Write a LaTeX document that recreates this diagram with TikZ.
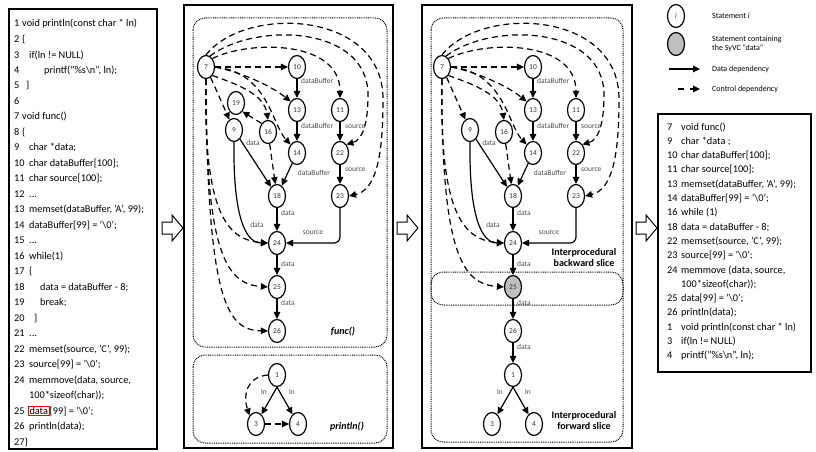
\documentclass[tikz,border=0pt]{standalone}
\usepackage{fontspec}
\setmainfont{Carlito}
\usetikzlibrary{shapes.geometric,arrows.meta}

% number column of a code line
\newcommand{\nb}[2]{\makebox[#1][l]{#2}}
\newcommand{\bsl}{\textbackslash}

\tikzset{
  stmt/.style={ellipse, draw, line width=1.2pt, minimum width=17pt, minimum height=23pt,
    inner sep=0pt, font=\fontsize{7.5}{8}\selectfont, text=black!80, fill=white},
  dep/.style={line width=1.2pt, -{Triangle[length=7pt,width=6.5pt]}},
  ctrl/.style={dep, dash pattern=on 6pt off 4pt},
  lbl/.style={font=\fontsize{7.5}{8}\selectfont, text=black!70, inner sep=0pt},
  region/.style={draw, line width=1pt, dash pattern=on 0.9pt off 0.9pt, rounded corners=12pt},
  panel/.style={draw, line width=1.1pt},
  code/.style={anchor=west, inner sep=0pt, font=\fontsize{10.3}{12}\selectfont},
  legtxt/.style={anchor=west, inner sep=0pt, align=left, font=\fontsize{8}{9.5}\selectfont},
  hollow/.style={draw, line width=1pt, fill=white},
  gtitle/.style={font=\fontsize{10}{11}\selectfont\bfseries\itshape, inner sep=0pt},
  slicetxt/.style={font=\fontsize{10}{11}\selectfont\bfseries, align=center, inner sep=0pt},
}

% hollow block arrow between two panels, #1 = left end
\newcommand{\blockarrow}[1]{%
  \draw[hollow] (#1,222) -- ++(10,0) -- ++(0,-7) -- ++(11,13) -- ++(-11,13)
    -- ++(0,-7) -- ++(-10,0) -- cycle;}

% statements and dependencies shared by both graphs of func()
% #1 = name prefix, #2 = extra style of statement 25
\newcommand{\funcgraph}[2]{%
  \node[stmt] (#1n7) at (206,67) {7};
  \node[stmt] (#1n10) at (297,67) {10};
  \node[stmt] (#1n13) at (297,110) {13};
  \node[stmt] (#1n14) at (297,153) {14};
  \node[stmt] (#1n11) at (340,110) {11};
  \node[stmt] (#1n22) at (340,153) {22};
  \node[stmt] (#1n23) at (340,196) {23};
  \node[stmt] (#1n9) at (234,130) {9};
  \node[stmt] (#1n16) at (268,132) {16};
  \node[stmt] (#1n18) at (277,196) {18};
  \node[stmt] (#1n24) at (277,243) {24};
  \node[stmt,#2] (#1n25) at (277,287) {25};
  \node[stmt] (#1n26) at (277,331) {26};
  \node[stmt] (#1n1) at (277,375) {1};
  \node[stmt] (#1n3) at (256,424) {3};
  \node[stmt] (#1n4) at (298,424) {4};
  % control dependencies
  \draw[ctrl] (#1n7) -- (#1n10);
  \draw[ctrl] (#1n7.east) .. controls (240,72) and (270,85) .. (#1n13.north west);
  \draw[ctrl] (#1n7.east) .. controls (268,72) and (272,125) .. (#1n14.north west);
  \draw[ctrl] (#1n7.south east) .. controls (240,85) and (264,95) .. (#1n16.north);
  \draw[ctrl] (#1n7) -- (#1n9);
  \draw[ctrl] (#1n7.north east) .. controls (250,40) and (340,40) .. (#1n11.north);
  \draw[ctrl] (#1n7.70) .. controls (255,22) and (368,25) .. (368,95)
    .. controls (368,125) and (362,140) .. (#1n22.north east);
  \draw[ctrl] (#1n7.north) .. controls (245,5) and (384,10) .. (383,100)
    .. controls (383,160) and (375,190) .. (#1n23.east);
  \draw[ctrl] (#1n7.south) .. controls (203,215) and (228,240) .. (#1n24.west);
  \draw[ctrl] (#1n7.south) .. controls (205,258) and (228,284) .. (#1n25.west);
  \draw[ctrl] (#1n16) -- (#1n18);
  % data dependencies
  \draw[dep] (#1n10) -- (#1n13);
  \draw[dep] (#1n13) -- (#1n14);
  \draw[dep] (#1n11) -- (#1n22);
  \draw[dep] (#1n22) -- (#1n23);
  \draw[dep] (#1n14) -- (#1n18);
  \draw[dep] (#1n9) -- (#1n18);
  \draw[dep] (#1n9.south) .. controls (233,215) and (245,243) .. (#1n24.west);
  \draw[dep] (#1n18) -- (#1n24);
  \draw[dep, rounded corners=6pt] (#1n23.south) |- (#1n24.east);
  \draw[dep] (#1n24) -- (#1n25);
  \draw[dep] (#1n25) -- (#1n26);
  \draw[dep] (#1n1.south) -- (#1n3);
  \draw[dep] (#1n1.south) -- (#1n4);
  % variable names on the data dependencies
  \node[lbl, anchor=west] (#1l1) at (301,81) {dataBuffer};
  \node[lbl, anchor=west] (#1l2) at (301,126) {dataBuffer};
  \node[lbl, anchor=west] (#1l3) at (345,127) {source};
  \node[lbl] (#1l4) at (253,143) {data};
  \node[lbl] (#1l5) at (314,173) {dataBuffer};
  \node[lbl, anchor=west] (#1l6) at (345,170) {source};
  \node[lbl, anchor=west] (#1l7) at (281,213) {data};
  \node[lbl] (#1l8) at (257,225) {data};
  \node[lbl] (#1l9) at (313,233) {source};
  \node[lbl, anchor=west] (#1l10) at (281,264) {data};
  \node[lbl, anchor=west] (#1l11) at (281,303) {data};
  \node[lbl] (#1l12) at (264,392) {ln};
  \node[lbl] (#1l13) at (292,392) {ln};
}

\begin{document}
\begin{tikzpicture}[x=1pt, y=-1pt]
\useasboundingbox (0,0) rectangle (816,452);

% ---------------- source code of the program ----------------
\draw[panel] (9,9) rectangle (157,449);
\node[code] (c1) at (14,24.0) {\nb{8pt}{1}void println(const char * ln)};
\node[code] (c2) at (14,39.5) {\nb{8pt}{2}\{};
\node[code] (c3) at (14,55.0) {\nb{15pt}{3}if(ln != NULL)};
\node[code] (c4) at (14,70.4) {\nb{30pt}{4}printf("\%s\bsl n", ln);};
\node[code] (c5) at (14,85.9) {\nb{12pt}{5}\}};
\node[code] (c6) at (14,101.4) {6};
\node[code] (c7) at (14,116.9) {\nb{8pt}{7}void func()};
\node[code] (c8) at (14,132.4) {\nb{8pt}{8}\{};
\node[code] (c9) at (14,147.8) {\nb{15pt}{9}char *data;};
\node[code] (c10) at (14,163.3) {\nb{15pt}{10}char dataBuffer[100];};
\node[code] (c11) at (14,178.8) {\nb{15pt}{11}char source[100];};
\node[code] (c12) at (14,194.3) {\nb{15pt}{12}...};
\node[code] (c13) at (14,209.8) {\nb{15pt}{13}memset(dataBuffer, 'A', 99);};
\node[code] (c14) at (14,225.2) {\nb{15pt}{14}dataBuffer[99] = '\bsl 0';};
\node[code] (c15) at (14,240.7) {\nb{15pt}{15}...};
\node[code] (c16) at (14,256.2) {\nb{15pt}{16}while(1)};
\node[code] (c17) at (14,271.7) {\nb{15pt}{17}\{};
\node[code] (c18) at (14,287.2) {\nb{26pt}{18}data = dataBuffer - 8;};
\node[code] (c19) at (14,302.6) {\nb{26pt}{19}break;};
\node[code] (c20) at (14,318.1) {\nb{20pt}{20}\}};
\node[code] (c21) at (14,333.6) {\nb{15pt}{21}...};
\node[code] (c22) at (14,349.1) {\nb{15pt}{22}memset(source, 'C', 99);};
\node[code] (c23) at (14,364.6) {\nb{15pt}{23}source[99] = '\bsl 0';};
\node[code] (c24) at (14,380.0) {\nb{15pt}{24}memmove(data, source,};
\node[code] (c24b) at (29,395.5) {100*sizeof(char));};
\node[code] (c25) at (14,411.0) {\nb{15pt}{25}};
\node[code, draw=red, line width=1pt, inner sep=1pt] (c25d) at (28,411.0) {data};
\node[code] (c25r) at (c25d.east) {[99] = '\bsl 0';};
\node[code] (c26) at (14,426.5) {\nb{15pt}{26}println(data);};
\node[code] (c27) at (14,442.0) {27\}};

\blockarrow{162}

% ---------------- program dependence graphs ----------------
\draw[panel] (184,5) rectangle (393,448);
\draw[region] (193,18) rectangle (387,347);
\draw[region] (193,355) rectangle (387,443);
\funcgraph{a}{}
\node[stmt] (an19) at (236,103) {19};
\draw[ctrl] (an16.north west) -- (an19.south east);
\draw[ctrl] (an7.south) .. controls (207,305) and (228,330) .. (an26.west);
\draw[ctrl] (an1.west) .. controls (246,377) and (243,396) .. (an3.north west);
\draw[ctrl] (an3) -- (an4);
\node[gtitle] (tfunc) at (343,332) {func()};
\node[gtitle] (tprint) at (347,427) {println()};

\blockarrow{397}

% ---------------- interprocedural slices ----------------
\draw[panel] (422,5) rectangle (632,448);
\draw[region] (431,18) rectangle (623,305);
\draw[region] (431,272) rectangle (623,442);
\begin{scope}[xshift=236pt]
\funcgraph{b}{fill=black!25}
\draw[dep] (bn26) -- (bn1);
\node[lbl, anchor=west] (bl14) at (281,347) {data};
\end{scope}
\node[slicetxt] (tback) at (584,258) {Interprocedural\\backward slice};
\node[slicetxt] (tfwd) at (584,421) {Interprocedural\\forward slice};

\blockarrow{636}

% ---------------- legend ----------------
\node[stmt] (kst) at (676,16) {\itshape i};
\node[legtxt] (kstt) at (712,16) {Statement \textit{i}};
\node[stmt, fill=black!25] (ksy) at (676,44) {};
\node[legtxt] (ksyt) at (712,44) {Statement containing\\the SyVC ``data''};
\coordinate (kd1) at (669,69);
\coordinate (kd2) at (700,69);
\draw[dep] (kd1) -- (kd2);
\node[legtxt] (kdt) at (712,69) {Data dependency};
\coordinate (kc1) at (678,89);
\coordinate (kc2) at (700,89);
\draw[dep, dash pattern=on 6pt off 6pt] (kc1) -- (kc2);
\node[legtxt] (kct) at (712,89) {Control dependency};

% ---------------- code of the SyVC slice ----------------
\draw[panel] (658,114) rectangle (811,372);
\node[code] (s1) at (667,127.0) {\nb{14pt}{7}void func()};
\node[code] (s2) at (667,141.3) {\nb{14pt}{9}char *data ;};
\node[code] (s3) at (667,155.6) {\nb{14pt}{10}char dataBuffer[100];};
\node[code] (s4) at (667,169.9) {\nb{14pt}{11}char source[100];};
\node[code] (s5) at (667,184.2) {\nb{14pt}{13}memset(dataBuffer, 'A', 99);};
\node[code] (s6) at (667,198.5) {\nb{14pt}{14}dataBuffer[99] = '\bsl 0';};
\node[code] (s7) at (667,212.8) {\nb{14pt}{16}while (1)};
\node[code] (s8) at (667,227.1) {\nb{14pt}{18}data = dataBuffer - 8;};
\node[code] (s9) at (667,241.4) {\nb{14pt}{22}memset(source, 'C', 99);};
\node[code] (s10) at (667,255.7) {\nb{14pt}{23}source[99] = '\bsl 0';};
\node[code] (s11) at (667,270.0) {\nb{14pt}{24}memmove (data, source,};
\node[code] (s12) at (681,284.3) {100*sizeof(char));};
\node[code] (s13) at (667,298.6) {\nb{14pt}{25}data[99] = '\bsl 0';};
\node[code] (s14) at (667,312.9) {\nb{14pt}{26}println(data);};
\node[code] (s15) at (667,327.2) {\nb{14pt}{1}void println(const char * ln)};
\node[code] (s16) at (667,341.5) {\nb{14pt}{3}if(ln != NULL)};
\node[code] (s17) at (667,355.8) {\nb{14pt}{4}printf("\%s\bsl n", ln);};
\end{tikzpicture}
\end{document}
